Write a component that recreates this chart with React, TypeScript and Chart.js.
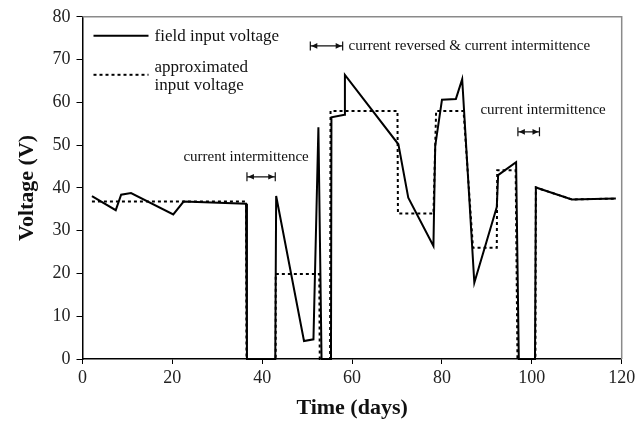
import React, { useEffect, useRef } from "react";
import { Chart, registerables } from "chart.js";

Chart.register(...registerables);

// Field-measured input voltage over the test period
const fieldDays = [2.1, 7.4, 8.6, 10.8, 20.2, 22.5, 36.4, 36.6, 42.9, 43.1, 49.3, 51.4, 52.5, 53.2, 55.3, 55.4, 58.3, 58.4, 70.3, 72.5, 78.1, 78.5, 80.0, 83.1, 84.5, 87.2, 92.2, 92.5, 96.5, 97.1, 100.7, 100.9, 108.9, 118.7];
const fieldVolts = [38.1, 34.8, 38.4, 38.8, 33.8, 36.8, 36.3, 0, 0, 38.1, 4.2, 4.6, 54.2, 0, 0, 56.5, 57.1, 66.4, 50.2, 37.7, 26.4, 49.8, 60.6, 60.8, 65.4, 17.8, 35.5, 43.0, 46.0, 0, 0, 40.1, 37.3, 37.5];

// Step approximation of the input voltage
const approxDays = [2.1, 36.4, 36.5, 43.0, 43.0, 52.7, 52.8, 55.1, 55.2, 70.1, 70.2, 78.1, 78.7, 84.8, 86.9, 92.2, 92.3, 96.4, 96.8, 100.8, 100.9, 108.9, 118.7];
const approxVolts = [36.8, 36.8, 0, 0, 19.9, 19.9, 0, 0, 58.0, 58.0, 34.0, 34.0, 58.0, 58.0, 26.0, 26.0, 44.1, 44.1, 0, 0, 40.1, 37.3, 37.5];

const xTicks = [0, 20, 40, 60, 80, 100, 120];
const yTicks = [0, 10, 20, 30, 40, 50, 60, 70, 80];

const seriesLabels = ["field input voltage", "approximated input voltage"];

// Interval annotations: arrow from/to (days) at a voltage level, plus caption
const spanFrom = [36.6, 50.7, 96.9];
const spanTo = [42.9, 57.9, 101.7];
const spanLevel = [42.6, 73.2, 53.1];
const captionText = ["current intermittence", "current reversed & current intermittence", "current intermittence"];
const captionDay = [36.4, 59.2, 102.5];
const captionVolt = [47.3, 73.2, 58.1];
const captionAlign: CanvasTextAlign[] = ["center", "left", "center"];

const SERIF = "'Liberation Serif', 'Times New Roman', serif";

const decorations = {
  id: "decorations",
  afterDraw(chart: any) {
    const { ctx, chartArea, scales } = chart;
    const xs = scales.x;
    const ys = scales.y;
    ctx.save();

    // grey frame on top and right
    ctx.strokeStyle = "#8a8a8a";
    ctx.lineWidth = 1.5;
    ctx.beginPath();
    ctx.moveTo(chartArea.left, chartArea.top);
    ctx.lineTo(chartArea.right, chartArea.top);
    ctx.lineTo(chartArea.right, chartArea.bottom);
    ctx.stroke();

    // axis titles
    ctx.fillStyle = "#111";
    ctx.font = `bold 22px ${SERIF}`;
    ctx.textAlign = "center";
    ctx.textBaseline = "middle";
    ctx.fillText("Time (days)", (chartArea.left + chartArea.right) / 2, 408);
    ctx.save();
    ctx.translate(27, (chartArea.top + chartArea.bottom) / 2);
    ctx.rotate(-Math.PI / 2);
    ctx.fillText("Voltage (V)", 0, 0);
    ctx.restore();

    // legend
    const lx = chartArea.left + 11;
    ctx.strokeStyle = "#000";
    ctx.lineWidth = 2;
    ctx.setLineDash([]);
    ctx.beginPath();
    ctx.moveTo(lx, chartArea.top + 19);
    ctx.lineTo(lx + 55, chartArea.top + 19);
    ctx.stroke();
    ctx.setLineDash([3, 3]);
    ctx.beginPath();
    ctx.moveTo(lx, chartArea.top + 58);
    ctx.lineTo(lx + 55, chartArea.top + 58);
    ctx.stroke();
    ctx.setLineDash([]);
    ctx.font = `17px ${SERIF}`;
    ctx.textAlign = "left";
    ctx.fillStyle = "#111";
    ctx.fillText(seriesLabels[0], lx + 61, chartArea.top + 20);
    const words = seriesLabels[1].split(" ");
    ctx.fillText(words[0], lx + 61, chartArea.top + 51);
    ctx.fillText(words.slice(1).join(" "), lx + 61, chartArea.top + 69);

    // interval arrows and captions
    ctx.font = `15px ${SERIF}`;
    for (let i = 0; i < spanFrom.length; i++) {
      const x1 = xs.getPixelForValue(spanFrom[i]);
      const x2 = xs.getPixelForValue(spanTo[i]);
      const y = ys.getPixelForValue(spanLevel[i]);
      ctx.strokeStyle = "#111";
      ctx.fillStyle = "#111";
      ctx.lineWidth = 1.2;
      ctx.beginPath();
      ctx.moveTo(x1, y);
      ctx.lineTo(x2, y);
      ctx.moveTo(x1, y - 4.5);
      ctx.lineTo(x1, y + 4.5);
      ctx.moveTo(x2, y - 4.5);
      ctx.lineTo(x2, y + 4.5);
      ctx.stroke();
      const head = 6;
      ctx.beginPath();
      ctx.moveTo(x1 + 1, y);
      ctx.lineTo(x1 + 1 + head, y - 2.8);
      ctx.lineTo(x1 + 1 + head, y + 2.8);
      ctx.closePath();
      ctx.fill();
      ctx.beginPath();
      ctx.moveTo(x2 - 1, y);
      ctx.lineTo(x2 - 1 - head, y - 2.8);
      ctx.lineTo(x2 - 1 - head, y + 2.8);
      ctx.closePath();
      ctx.fill();

      ctx.textAlign = captionAlign[i];
      ctx.textBaseline = "middle";
      ctx.fillText(captionText[i], xs.getPixelForValue(captionDay[i]), ys.getPixelForValue(captionVolt[i]));
    }
    ctx.restore();
  },
};

export default function App() {
  const canvasRef = useRef<HTMLCanvasElement | null>(null);

  useEffect(() => {
    if (!canvasRef.current) return;
    const field = fieldDays.map((d, i) => ({ x: d, y: fieldVolts[i] }));
    const approx = approxDays.map((d, i) => ({ x: d, y: approxVolts[i] }));
    const chart = new Chart(canvasRef.current, {
      type: "line",
      data: {
        datasets: [
          {
            label: seriesLabels[0],
            data: field,
            borderColor: "#000",
            borderWidth: 2,
            pointRadius: 0,
            tension: 0,
            fill: false,
            clip: 4,
          },
          {
            label: seriesLabels[1],
            data: approx,
            borderColor: "#000",
            borderWidth: 2,
            borderDash: [3, 3],
            pointRadius: 0,
            tension: 0,
            fill: false,
            clip: 4,
          },
        ],
      },
      options: {
        animation: false,
        responsive: true,
        maintainAspectRatio: false,
        layout: { padding: { top: 15, right: 22.3, left: 0, bottom: 0 } },
        plugins: {
          legend: { display: false },
          tooltip: { enabled: false },
        },
        scales: {
          x: {
            type: "linear",
            min: 0,
            max: 120,
            afterBuildTicks: (scale: any) => {
              scale.ticks = xTicks.map((v) => ({ value: v }));
            },
            afterFit: (scale: any) => {
              scale.height = 62;
            },
            ticks: {
              font: { family: SERIF, size: 18 },
              color: "#222",
              padding: 3,
              maxRotation: 0,
            },
            grid: { drawOnChartArea: false, tickLength: 5, color: "#000" },
            border: { color: "#000", width: 1.5 },
          },
          y: {
            type: "linear",
            min: 0,
            max: 80,
            afterBuildTicks: (scale: any) => {
              scale.ticks = yTicks.map((v) => ({ value: v }));
            },
            afterFit: (scale: any) => {
              scale.width = 82.5;
            },
            ticks: {
              font: { family: SERIF, size: 18 },
              color: "#222",
              padding: 6,
            },
            grid: { drawOnChartArea: false, tickLength: 6, color: "#000" },
            border: { color: "#000", width: 1.5 },
          },
        },
      },
      plugins: [decorations],
    });
    return () => chart.destroy();
  }, []);

  return (
    <div style={{ position: "fixed", left: 0, top: 0, width: 644, height: 421, background: "#fff" }}>
      <canvas ref={canvasRef} />
    </div>
  );
}
